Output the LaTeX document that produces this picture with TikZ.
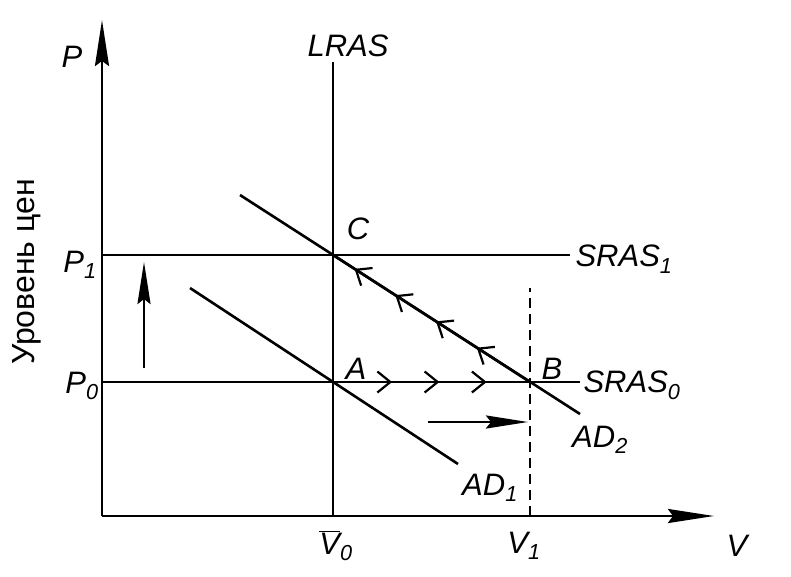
\documentclass[tikz,border=0pt]{standalone}
\usepackage{fontspec}
\setmainfont{Liberation Sans}
\usetikzlibrary{arrows.meta, decorations.markings}

\begin{document}
\begin{tikzpicture}[
  x=1pt, y=-1pt,
  ln/.style={line width=2.6pt},
  lbl/.style={font=\fontsize{31}{34}\selectfont\itshape, inner sep=0pt},
  axis/.style={ln, -{Stealth[length=46pt, width=14pt, inset=5pt]}},
  shiftarrow/.style={ln, -{Stealth[length=42pt, width=13pt, inset=5pt]}},
  barbs/.style 2 args={postaction={decorate}, decoration={markings,
    mark=between positions #1 and 0.9 step #2
      with {\arrow{Straight Barb[length=13pt, width=21pt, line width=2.2pt]}}}},
]
  \useasboundingbox (0,0) rectangle (791,576);

  % points
  \coordinate (O) at (102,516);
  \coordinate (Ptop) at (102,20);
  \coordinate (Vend) at (714,516);
  \coordinate (A) at (333,382);
  \coordinate (B) at (530,382);
  \coordinate (C) at (333,255);
  \coordinate (Vzero) at (333,516);
  \coordinate (Vone) at (530,516);
  \coordinate (LRAStop) at (333,62);
  \coordinate (Pone) at (102,255);
  \coordinate (Pzero) at (102,382);
  \coordinate (S1end) at (570,255);
  \coordinate (S0end) at (580,382);
  \coordinate (AD1a) at (190,288);
  \coordinate (AD1b) at (458,464);
  \coordinate (AD2a) at (240,195);
  \coordinate (AD2b) at (580,414);
  \coordinate (Vdash) at (530,288);

  % axes
  \draw[axis] (O) -- (Ptop);
  \draw[axis] (O) -- (Vend);

  % curves
  \draw[ln] (Vzero) -- (LRAStop);
  \draw[ln] (Pone) -- (S1end);
  \draw[ln] (Pzero) -- (S0end);
  \draw[ln] (AD1a) -- (AD1b);
  \draw[ln] (AD2a) -- (AD2b);
  \draw[line width=2.2pt, dash pattern=on 10pt off 6pt] (Vone) -- (Vdash);

  % adjustment path
  \draw[ln, barbs={0.3}{0.24}] (A) -- (B);
  \draw[ln, barbs={0.27}{0.207}] (B) -- (C);

  % shifts
  \coordinate (upS) at (144,368);
  \coordinate (upE) at (144,262);
  \coordinate (rtS) at (428,422);
  \coordinate (rtE) at (528,422);
  \draw[shiftarrow] (upS) -- (upE);
  \draw[shiftarrow] (rtS) -- (rtE);

  % labels
  \node[lbl] (labP) at (72,57) {P};
  \node[lbl] (labP1) at (80,265) {P\textsubscript{1}};
  \node[lbl] (labP0) at (82,386) {P\textsubscript{0}};
  \node[lbl] (labLRAS) at (348,46) {LRAS};
  \node[lbl] (labC) at (358,229) {C};
  \node[lbl] (labA) at (356,369) {A};
  \node[lbl] (labB) at (552,369) {B};
  \node[lbl] (labS1) at (624,259) {SRAS\textsubscript{1}};
  \node[lbl] (labS0) at (632,385) {SRAS\textsubscript{0}};
  \node[lbl] (labAD2) at (600,440) {AD\textsubscript{2}};
  \node[lbl] (labAD1) at (490,488) {AD\textsubscript{1}};
  \node[lbl] (labV0) at (336,546) {$\overline{\hbox{\itshape V}}$\textsubscript{0}};
  \node[lbl] (labV1) at (524,546) {V\textsubscript{1}};
  \node[lbl] (labV) at (737,546) {V};
  \node[font=\fontsize{32}{34}\selectfont, rotate=90, inner sep=0pt]
    (labLevel) at (27,272) {Уровень цен};
\end{tikzpicture}
\end{document}
